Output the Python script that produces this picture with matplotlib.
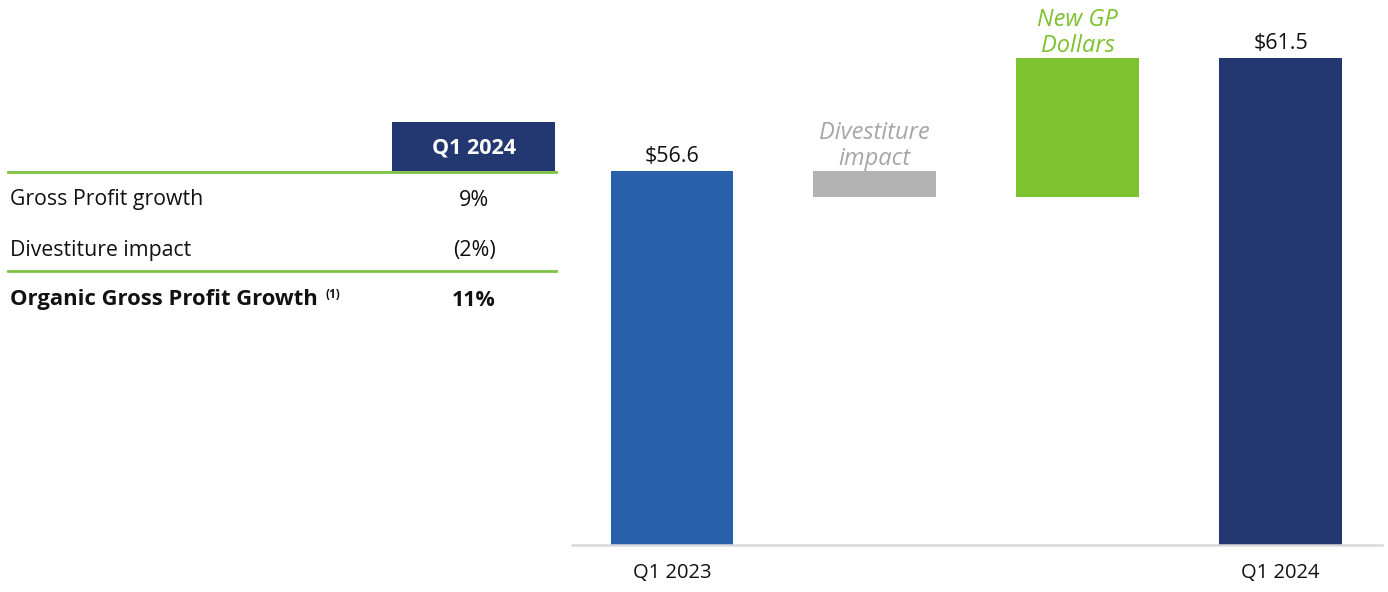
import matplotlib
matplotlib.use("Agg")
import matplotlib.pyplot as plt
from matplotlib.patches import Rectangle
from matplotlib.lines import Line2D

plt.rcParams['font.family'] = ['Open Sans', 'DejaVu Sans']

# ---- data ----
steps = ["Q1 2023", "Divestiture impact", "New GP Dollars", "Q1 2024"]
step_values = [56.6, -1.1, 6.0, 61.5]
tick_labels = ["Q1 2023", "", "", "Q1 2024"]
value_labels = ["$56.6", "", "", "$61.5"]
step_notes = ["", "Divestiture\nimpact", "New GP\nDollars", ""]

table_header = "Q1 2024"
table_rows = ["Gross Profit growth", "Divestiture impact", "Organic Gross Profit Growth"]
table_values = ["9%", "(2%)", "11%"]

# colors
BLUE = "#2960AA"
NAVY = "#233870"
GREY = "#B2B2B2"
GREEN = "#7DC22F"
LINE_GREEN = "#7DC242"

W, H = 1388, 592
fig = plt.figure(figsize=(W / 100, H / 100), dpi=100)

def fx(px):
    return px / W

def fy(py):
    return 1 - py / H

# ---- waterfall ----
ax = fig.add_axes([fx(572), fy(545), fx(1382) - fx(572), fy(10) - fy(545)])
bottoms = []
heights = []
colors = []
running = 0.0
for i, v in enumerate(step_values):
    if i == 0 or i == len(step_values) - 1:
        bottoms.append(0)
        heights.append(v)
        colors.append(BLUE if i == 0 else NAVY)
        running = v
    else:
        if v < 0:
            bottoms.append(running + v)
            heights.append(-v)
            colors.append(GREY)
        else:
            bottoms.append(running)
            heights.append(v)
            colors.append(GREEN)
        running += v

xs = list(range(len(steps)))
ax.bar(xs, heights, bottom=bottoms, width=0.605, color=colors, zorder=2)
ax.set_xlim(-0.493, 3.5)
ax.set_ylim(40.4, 63.6)

for s in ["top", "right", "left"]:
    ax.spines[s].set_visible(False)
ax.spines["bottom"].set_color("#D9D9D9")
ax.spines["bottom"].set_linewidth(1.8)
ax.set_yticks([])
ax.set_xticks([0, 3])
ax.set_xticklabels([tick_labels[0], tick_labels[3]], fontsize=14.5, color="#111111")
ax.tick_params(axis="x", length=0, pad=13)

for i in xs:
    top = bottoms[i] + heights[i]
    if value_labels[i]:
        ax.annotate(value_labels[i], (i, top), xytext=(0, 3), textcoords="offset points",
                    ha="center", va="bottom", fontsize=15.5, color="#111111")
    if step_notes[i]:
        col = "#A6A6A6" if step_values[i] < 0 else GREEN
        ax.annotate(step_notes[i], (i, top), xytext=(0, 0), textcoords="offset points",
                    ha="center", va="bottom", fontsize=17, color=col, style="italic",
                    linespacing=1.12)

# ---- table ----
fig.add_artist(Rectangle((fx(392), fy(171)), fx(555) - fx(392), fy(122) - fy(171),
                         transform=fig.transFigure, color=NAVY, lw=0))
fig.text(fx(474), fy(148), table_header, ha="center", va="center", color="white",
         fontsize=15.5, fontweight="bold")
for yl in (172, 271):
    fig.add_artist(Line2D([fx(8), fx(556)], [fy(yl), fy(yl)], transform=fig.transFigure,
                          color=LINE_GREEN, lw=2))
row_y = [200, 250, 300]
for i, (lab, val) in enumerate(zip(table_rows, table_values)):
    bold = i == len(table_rows) - 1
    fig.text(fx(10), fy(row_y[i]), lab, ha="left", va="center",
             fontsize=15.8 if bold else 15.3,
             fontweight="bold" if bold else "normal", color="#111111")
    fig.text(fx(474), fy(row_y[i]), val, ha="center", va="center",
             fontsize=15.5,
             fontweight="bold" if bold else "normal", color="#111111")
    if bold:
        fig.text(fx(325), fy(295), "(1)", ha="left", va="center", fontsize=8.5,
                 fontweight="bold", color="#111111")

fig.savefig("out.png", dpi=100)
